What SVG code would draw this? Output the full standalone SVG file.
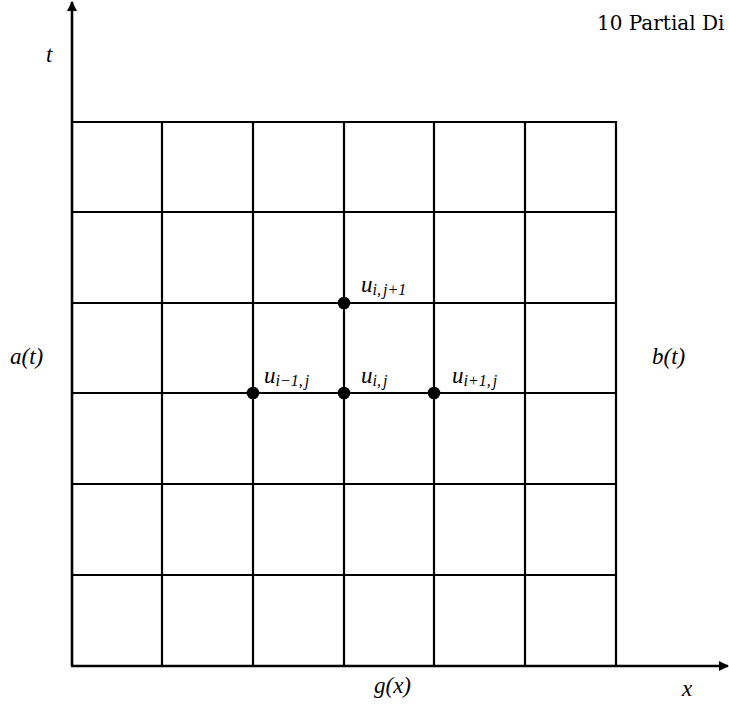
<svg xmlns="http://www.w3.org/2000/svg" width="729" height="708" viewBox="0 0 729 708">
<style>
.g{stroke:#000;stroke-width:2.2;fill:none}
.ax{stroke:#000;stroke-width:2.6;fill:none}
.m{font-family:"Liberation Serif","DejaVu Serif",serif;font-style:italic;font-size:23px;fill:#000}
.s{font-size:16px}
.h{font-family:"DejaVu Serif","Liberation Serif",serif;font-size:20px;fill:#000}
</style>
<defs>
<marker id="ar" viewBox="0 0 10 10" refX="9" refY="5" markerWidth="4" markerHeight="4" orient="auto" markerUnits="strokeWidth">
<path d="M0,0 L10,5 L0,10 z" fill="#000"/>
</marker>
</defs>
<text class="h" x="597" y="30">10  Partial Di</text>
<g id="connectors">
<g id="grid">
<path class="g" d="M72,122H616 M72,212H616 M72,303H616 M72,393H616 M72,484H616 M72,575H616"/>
<path class="g" d="M162,122V666 M253,122V666 M344,122V666 M434,122V666 M525,122V666 M616,121V666"/>
</g>
<line class="ax" x1="72" y1="666" x2="72" y2="2" marker-end="url(#ar)"/>
<line class="ax" x1="71" y1="666" x2="728" y2="666" marker-end="url(#ar)"/>
</g>
<g id="n_ij1"><circle cx="344" cy="303" r="6.3"/><text class="m" x="361" y="292">u<tspan class="s" dy="3">i,<tspan dx="2">j</tspan>+1</tspan></text></g>
<g id="n_im1"><circle cx="253" cy="393" r="6.3"/><text class="m" x="264" y="383">u<tspan class="s" dy="3">i−1,<tspan dx="2">j</tspan></tspan></text></g>
<g id="n_ij"><circle cx="344" cy="393" r="6.3"/><text class="m" x="361" y="383">u<tspan class="s" dy="3">i,<tspan dx="2">j</tspan></tspan></text></g>
<g id="n_ip1"><circle cx="434" cy="393" r="6.3"/><text class="m" x="452" y="383">u<tspan class="s" dy="3">i+1,<tspan dx="2">j</tspan></tspan></text></g>
<g id="lbl_t"><text class="m" x="46" y="62">t</text></g>
<g id="lbl_a"><text class="m" x="10" y="364">a(t)</text></g>
<g id="lbl_b"><text class="m" x="652" y="364">b(t)</text></g>
<g id="lbl_g"><text class="m" x="374" y="693">g(x)</text></g>
<g id="lbl_x"><text class="m" x="682" y="696">x</text></g>
</svg>
